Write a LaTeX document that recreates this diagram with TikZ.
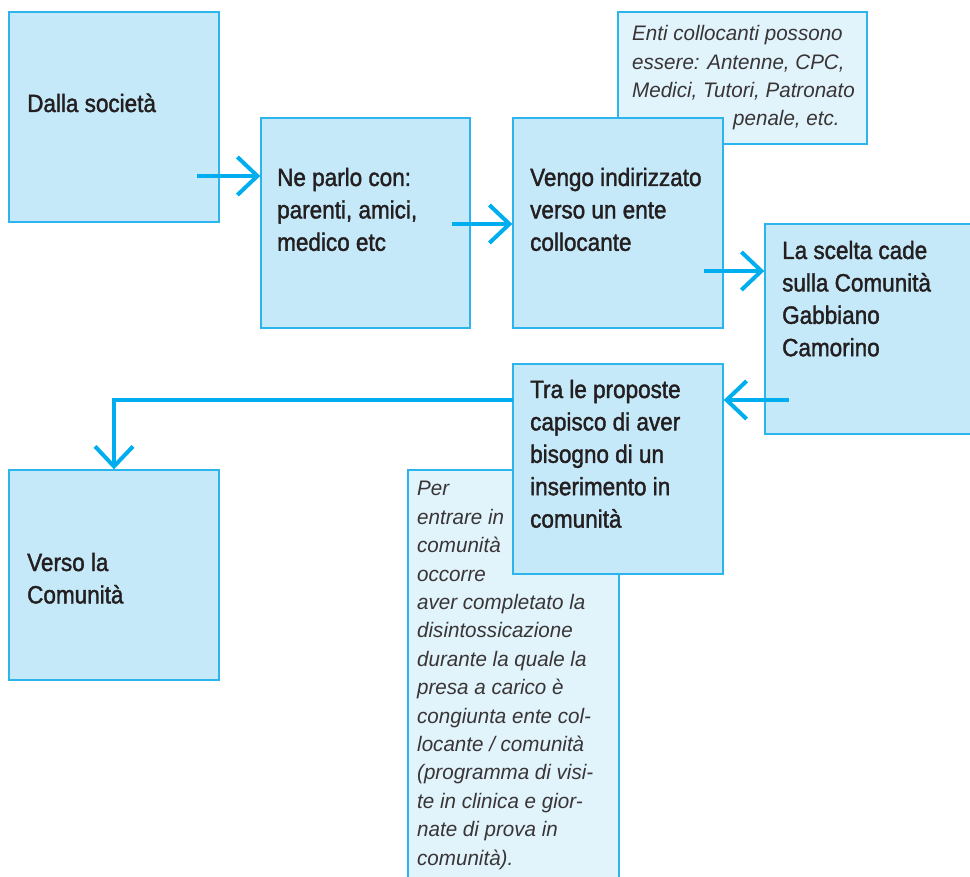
\documentclass[tikz,border=0pt]{standalone}
\usepackage{fontspec}
\setmainfont{Liberation Sans}
\newfontfamily\boxfont[FakeStretch=0.9,FakeBold=1.6]{Liberation Sans}
\newfontfamily\notefont[FakeStretch=0.98]{Liberation Sans}
\usetikzlibrary{arrows.meta}
\definecolor{boxfill}{HTML}{C6E9F9}
\definecolor{boxline}{HTML}{2BB5EC}
\definecolor{notefill}{HTML}{E1F3FB}
\definecolor{arrowc}{HTML}{00AEEF}
\definecolor{txt}{HTML}{231F20}
\begin{document}
\begin{tikzpicture}[x=1pt,y=-1pt,
  box/.style={draw=boxline, fill=boxfill, line width=1.4pt, inner sep=0pt, minimum width=210pt, minimum height=210pt},
  note/.style={draw=boxline, fill=notefill, line width=1.4pt, inner sep=0pt},
  lbl/.style={font=\boxfont\fontsize{25}{32.4}\selectfont, text=txt, align=left, inner sep=0pt, anchor=base west},
  notelbl/.style={font=\notefont\itshape\fontsize{21}{28.4}\selectfont, text=txt!90, align=left, inner sep=0pt, anchor=base west},
  flow/.style={draw=arrowc, line width=4pt, -{Straight Barb[length=20pt,width=38pt]}}]
\useasboundingbox (0,0) rectangle (970,877);
% notes (behind)
\node[note, minimum width=249pt, minimum height=132pt] (n1) at (742.5,78) {};
\node[note, minimum width=211pt, minimum height=420pt] (n2) at (513.5,680) {};
% boxes
\node[box] (b1) at (114,117) {};
\node[box, minimum width=209pt] (b2) at (365.5,223) {};
\node[box] (b3) at (618,223) {};
\node[box] (b4) at (870,329) {};
\node[box] (b5) at (618,469) {};
\node[box] (b6) at (114,575) {};
% texts (anchor = baseline of last line)
\node[notelbl] (n1t) at (632,126) {Enti collocanti possono\\essere: Antenne, CPC,\\Medici, Tutori, Patronato\\\hspace*{101pt}penale, etc.};
\node[notelbl] (n2t) at (417,865) {Per\\entrare in\\comunità\\occorre\\aver completato la\\disintossicazione\\durante la quale la\\presa a carico è\\congiunta ente col-\\locante / comunità\\(programma di visi-\\te in clinica e gior-\\nate di prova in\\comunità).};
\node[lbl] (t1) at (27,112) {Dalla società};
\node[lbl] (t2) at (277,250.8) {Ne parlo con:\\parenti, amici,\\medico etc};
\node[lbl] (t3) at (530,250.8) {Vengo indirizzato\\verso un ente\\collocante};
\node[lbl] (t4) at (782,356.2) {La scelta cade\\sulla Comunità\\Gabbiano\\Camorino};
\node[lbl] (t5) at (530,527.6) {Tra le proposte\\capisco di aver\\bisogno di un\\inserimento in\\comunità};
\node[lbl] (t6) at (27,603.4) {Verso la\\Comunità};
% connectors
\coordinate (a1) at (197,176);
\coordinate (a2) at (452,224);
\coordinate (a3) at (704,271);
\coordinate (a4) at (789,400);
\coordinate (a5) at (513,400);
\draw[flow] (a1) -- (a1 -| b2.west);
\draw[flow] (a2) -- (a2 -| b3.west);
\draw[flow] (a3) -- (a3 -| b4.west);
\draw[flow] (a4) -- (a4 -| b5.east);
\draw[flow] (a5) -| (b6.north);
\end{tikzpicture}
\end{document}
